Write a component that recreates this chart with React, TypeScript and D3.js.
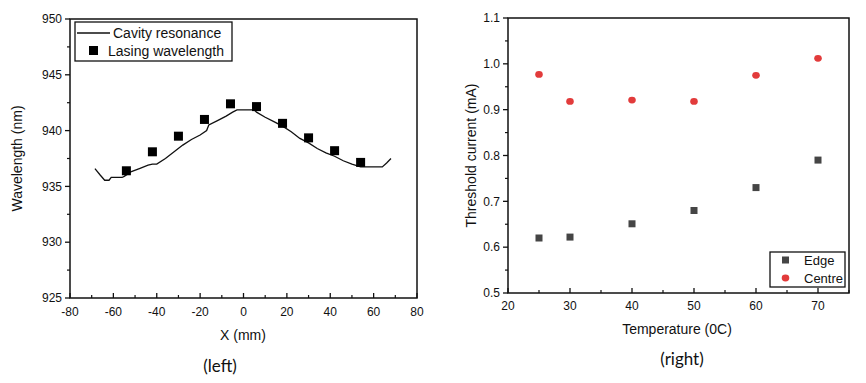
import React from "react";
import * as d3 from "d3";

// ---- Left chart data ----
const cavityX = [-68.5, -66, -64, -62, -61, -56, -55, -52, -48, -44, -42, -40, -36, -32, -28, -24, -20, -17, -16, -12, -8, -5, -3, 5, 6, 10, 14, 18, 22, 26, 30, 34, 38, 42, 46, 50, 54, 64, 66, 68];
const cavityY = [936.6, 936.0, 935.55, 935.55, 935.8, 935.8, 935.9, 936.3, 936.6, 936.9, 937.0, 937.0, 937.5, 938.1, 938.7, 939.2, 939.6, 940.0, 940.5, 940.9, 941.3, 941.65, 941.85, 941.85, 941.65, 941.2, 940.8, 940.4, 939.9, 939.3, 938.9, 938.4, 938.0, 937.7, 937.3, 937.0, 936.75, 936.75, 937.1, 937.5];
const lasingX = [-54, -42, -30, -18, -6, 6, 18, 30, 42, 54];
const lasingY = [936.4, 938.1, 939.5, 941.0, 942.4, 942.15, 940.65, 939.35, 938.2, 937.15];
const leftXTicks = [-80, -60, -40, -20, 0, 20, 40, 60, 80];
const leftYTicks = [925, 930, 935, 940, 945, 950];

// ---- Right chart data ----
const temps = [25, 30, 40, 50, 60, 70];
const edge = [0.62, 0.622, 0.651, 0.68, 0.73, 0.79];
const centre = [0.977, 0.918, 0.921, 0.918, 0.975, 1.012];
const rightXTicks = [20, 30, 40, 50, 60, 70];
const rightYTicks = [0.5, 0.6, 0.7, 0.8, 0.9, 1.0, 1.1];

const FONT = "Arial, 'Liberation Sans', sans-serif";

function LeftChart() {
  const L = 70, R = 417, T = 19, B = 298;
  const x = d3.scaleLinear().domain([-80, 80]).range([L, R]);
  const y = d3.scaleLinear().domain([925, 950]).range([B, T]);
  const line = d3.line<number>().x((_, i) => x(cavityX[i])).y((d) => y(d));
  const xMinor = d3.range(-70, 80, 20);
  const yMinor = d3.range(927.5, 950, 5);
  return (
    <g fontFamily={FONT}>
      <rect x={L} y={T} width={R - L} height={B - T} fill="none" stroke="#111" strokeWidth={1.5} />
      {leftXTicks.map((t) => (
        <g key={"xt" + t}>
          <line x1={x(t)} x2={x(t)} y1={B} y2={B - 5} stroke="#111" strokeWidth={1.3} />
          <text x={x(t)} y={B + 18} textAnchor="middle" fontSize={12} fill="#111">{t}</text>
        </g>
      ))}
      {xMinor.map((t) => (
        <line key={"xm" + t} x1={x(t)} x2={x(t)} y1={B} y2={B - 3} stroke="#111" strokeWidth={1.2} />
      ))}
      {leftYTicks.map((t) => (
        <g key={"yt" + t}>
          <line x1={L} x2={L - 5} y1={y(t)} y2={y(t)} stroke="#111" strokeWidth={1.3} />
          <text x={L - 8} y={y(t)} dy="0.35em" textAnchor="end" fontSize={12} fill="#111">{t}</text>
        </g>
      ))}
      {yMinor.map((t) => (
        <line key={"ym" + t} x1={L} x2={L - 3} y1={y(t)} y2={y(t)} stroke="#111" strokeWidth={1.2} />
      ))}
      <path d={line(cavityY) || ""} fill="none" stroke="#111" strokeWidth={1.3} />
      {lasingX.map((v, i) => (
        <rect key={"sq" + i} x={x(v) - 4.5} y={y(lasingY[i]) - 4.5} width={9} height={9} fill="#000" />
      ))}
      {/* legend */}
      <rect x={75} y={22} width={157} height={39} fill="#fff" stroke="#111" strokeWidth={1.3} />
      <line x1={77} x2={110} y1={33} y2={33} stroke="#111" strokeWidth={1.4} />
      <text x={113} y={33} dy="0.35em" fontSize={14} fill="#111">Cavity resonance</text>
      <rect x={89} y={46} width={9} height={9} fill="#000" />
      <text x={108} y={51} dy="0.35em" fontSize={14} fill="#111">Lasing wavelength</text>
      <text x={243} y={340} textAnchor="middle" fontSize={14} fill="#111">X (mm)</text>
      <text transform={`translate(22,${(T + B) / 2}) rotate(-90)`} textAnchor="middle" fontSize={14} fill="#111">Wavelength (nm)</text>
      <text x={220} y={372} textAnchor="middle" fontSize={17} fontFamily="Lato, 'Open Sans', sans-serif" fill="#111">(left)</text>
    </g>
  );
}

function RightChart() {
  const L = 508, R = 849, T = 18, B = 293;
  const x = d3.scaleLinear().domain([20, 75]).range([L, R]);
  const y = d3.scaleLinear().domain([0.5, 1.1]).range([B, T]);
  const xMinor = d3.range(25, 76, 10);
  const yMinor = d3.range(0.55, 1.1, 0.1);
  return (
    <g fontFamily={FONT}>
      <rect x={L} y={T} width={R - L} height={B - T} fill="none" stroke="#111" strokeWidth={1.5} />
      {rightXTicks.map((t) => (
        <g key={"xt" + t}>
          <line x1={x(t)} x2={x(t)} y1={B} y2={B - 5} stroke="#111" strokeWidth={1.3} />
          <text x={x(t)} y={B + 17} textAnchor="middle" fontSize={12} fill="#111">{t}</text>
        </g>
      ))}
      {xMinor.map((t) => (
        <line key={"xm" + t} x1={x(t)} x2={x(t)} y1={B} y2={B - 3} stroke="#111" strokeWidth={1.2} />
      ))}
      {rightYTicks.map((t) => (
        <g key={"yt" + t}>
          <line x1={L} x2={L - 5} y1={y(t)} y2={y(t)} stroke="#111" strokeWidth={1.3} />
          <text x={L - 8} y={y(t)} dy="0.35em" textAnchor="end" fontSize={12} fill="#111">{t.toFixed(1)}</text>
        </g>
      ))}
      {yMinor.map((t) => (
        <line key={"ym" + t} x1={L} x2={L - 3} y1={y(t)} y2={y(t)} stroke="#111" strokeWidth={1.2} />
      ))}
      {temps.map((v, i) => (
        <rect key={"e" + i} x={x(v) - 3.5} y={y(edge[i]) - 3.5} width={7} height={7} fill="#454545" />
      ))}
      {temps.map((v, i) => (
        <ellipse key={"c" + i} cx={x(v)} cy={y(centre[i])} rx={3.8} ry={3.4} fill="#e23b3b" />
      ))}
      {/* legend */}
      <rect x={770} y={252} width={75} height={35} fill="#fff" stroke="#111" strokeWidth={1.3} />
      <rect x={782} y={256.5} width={7} height={7} fill="#454545" />
      <text x={804} y={260} dy="0.35em" fontSize={13} fill="#111">Edge</text>
      <ellipse cx={785.5} cy={278} rx={3.8} ry={3.4} fill="#e23b3b" />
      <text x={804} y={278} dy="0.35em" fontSize={13} fill="#111">Centre</text>
      <text x={677} y={334} textAnchor="middle" fontSize={14} fill="#111">Temperature (0C)</text>
      <text transform={`translate(476,${(T + B) / 2}) rotate(-90)`} textAnchor="middle" fontSize={14} fill="#111">Threshold current (mA)</text>
      <text x={682} y={365} textAnchor="middle" fontSize={17} fontFamily="Lato, 'Open Sans', sans-serif" fill="#111">(right)</text>
    </g>
  );
}

export default function App() {
  return (
    <svg width={866} height={383} style={{ position: "absolute", left: 0, top: 0, background: "#fff" }}>
      <rect width={866} height={383} fill="#fff" />
      <LeftChart />
      <RightChart />
    </svg>
  );
}
